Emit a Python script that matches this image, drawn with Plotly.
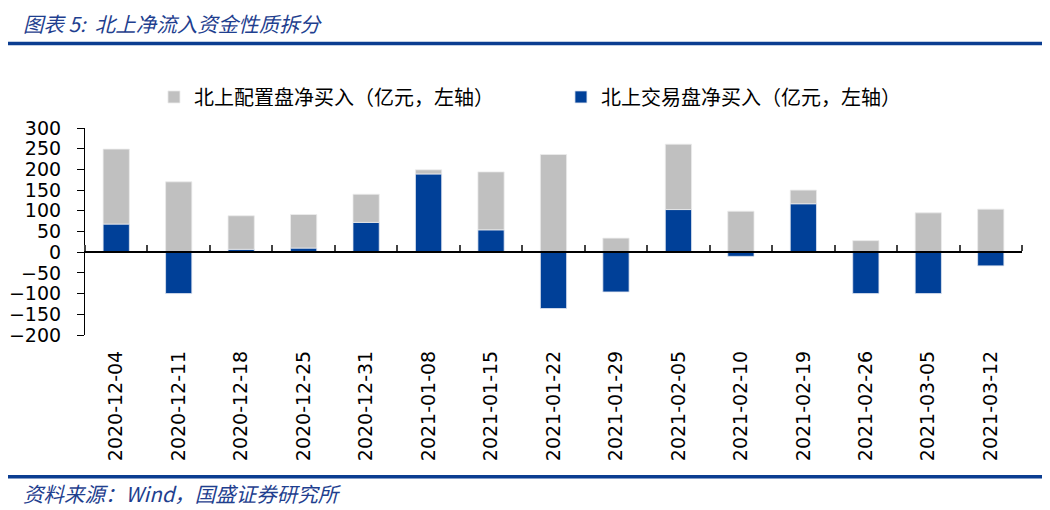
import plotly.graph_objects as go

dates = ["2020-12-04", "2020-12-11", "2020-12-18", "2020-12-25", "2020-12-31",
         "2021-01-08", "2021-01-15", "2021-01-22", "2021-01-29", "2021-02-05",
         "2021-02-10", "2021-02-19", "2021-02-26", "2021-03-05", "2021-03-12"]
trade_net = [68, -100, 7, 10, 72, 189, 54, -136, -96, 103, -10, 117, -100, -100, -33]
alloc_net = [181, 170, 81, 81, 68, 10, 140, 236, 34, 158, 99, 33, 28, 95, 104]
y_ticks = [300, 250, 200, 150, 100, 50, 0, -50, -100, -150, -200]

name_alloc = "北上配置盘净买入（亿元，左轴）"
name_trade = "北上交易盘净买入（亿元，左轴）"

GRAY = "#C0C0C0"
BLUE = "#004098"
HEAD = "#1F3F8F"
LINE = "#0B3D91"

fig = go.Figure()
fig.add_trace(go.Bar(x=dates, y=trade_net, name=name_trade, marker_color=BLUE,
                     marker_line=dict(color="rgba(225,230,240,1)", width=0.8),
                     legendrank=2))
fig.add_trace(go.Bar(x=dates, y=alloc_net, name=name_alloc, marker_color=GRAY,
                     marker_line=dict(color="rgba(235,235,235,1)", width=0.8),
                     legendrank=1))
# helper trace so the zero-line category axis has categories
fig.add_trace(go.Scatter(x=dates, y=[0] * len(dates), xaxis="x2", mode="lines",
                         line=dict(width=0), opacity=0, showlegend=False,
                         hoverinfo="skip"))

fig.update_layout(
    width=1042, height=502,
    margin=dict(l=77, r=28, t=120, b=175, autoexpand=False),
    paper_bgcolor="white", plot_bgcolor="white",
    barmode="relative", bargap=0.58,
    font=dict(family="DejaVu Sans", color="black"),
    showlegend=True,
    legend=dict(orientation="h", x=0.0736, y=1.15, xanchor="left", yanchor="middle",
                font=dict(family="Noto Sans CJK SC", size=20, color="black"),
                entrywidth=362, itemwidth=30, traceorder="normal"),
    xaxis=dict(type="category", categoryorder="array", categoryarray=dates,
               range=[-0.5, len(dates) - 0.5], automargin=False,
               showline=False, showgrid=False, zeroline=False, ticks="",
               tickangle=-90, tickfont=dict(family="DejaVu Sans", size=19),
               ticklabelstandoff=11),
    xaxis2=dict(type="category", categoryorder="array", categoryarray=dates,
                overlaying="x", matches="x", anchor="free", position=0.4, side="top",
                showline=True, linecolor="black", linewidth=1.5,
                ticks="outside", tickson="boundaries", ticklen=6, tickwidth=1.5,
                tickcolor="#444", showticklabels=False, showgrid=False),
    yaxis=dict(range=[-200, 300], tickvals=y_ticks, showgrid=False, zeroline=False,
               showline=True, linecolor="black", linewidth=1.2, automargin=False,
               ticks="outside", ticklen=7, tickcolor="black",
               tickfont=dict(family="DejaVu Sans", size=19), ticklabelstandoff=12),
)

fig.add_annotation(text="<i>图表 5:  北上净流入资金性质拆分</i>", xref="paper", yref="paper",
                   x=-0.068, y=1.508, xanchor="left", yanchor="middle", showarrow=False,
                   font=dict(family="Noto Sans CJK SC", size=20.5, color=HEAD))
fig.add_annotation(text="<i>资料来源：Wind，国盛证券研究所</i>", xref="paper", yref="paper",
                   x=-0.068, y=-0.762, xanchor="left", yanchor="middle", showarrow=False,
                   font=dict(family="Noto Sans CJK SC", size=20.5, color=HEAD))
fig.add_shape(type="line", xref="paper", yref="paper", x0=-0.0854, x1=1.0245,
              y0=1.4086, y1=1.4086, line=dict(color=LINE, width=3.5))
fig.add_shape(type="line", xref="paper", yref="paper", x0=-0.0854, x1=1.0245,
              y0=-0.685, y1=-0.685, line=dict(color=LINE, width=3.5))

fig.write_html("out.html")
